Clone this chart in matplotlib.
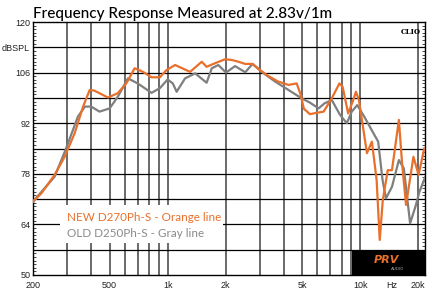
import matplotlib
matplotlib.use('Agg')
import matplotlib.pyplot as plt
from matplotlib.patches import Rectangle
from matplotlib.ticker import FixedLocator, MultipleLocator, NullFormatter

# Dados (frequência em Hz, nível em dBSPL)
freq_novo = [200, 221, 259, 292, 329, 364, 394, 417, 490, 551, 610, 674, 746, 825, 912, 986,
             1094, 1308, 1504, 1594, 1764, 1990, 2152, 2332, 2530, 2760, 3020, 3320, 3760,
             4240, 4680, 4900, 5100, 5480, 5720, 6460, 7120, 7800, 8100, 8660, 9200, 9500,
             9850, 10840, 11500, 12170, 12630, 13100, 13900, 14620, 15880, 16500, 17300,
             18900, 20100, 21500]
db_novo = [70.3, 72.6, 77.7, 82.7, 89.2, 96.6, 101.2, 101.0, 99.1, 100.3, 103.0, 107.2, 106.2,
           104.7, 104.7, 106.7, 108.1, 106.2, 109.0, 107.6, 108.6, 109.7, 109.5, 109.0, 108.4,
           108.4, 106.7, 105.1, 103.5, 102.6, 103.0, 100.0, 96.0, 94.5, 94.7, 95.2, 98.9,
           103.0, 102.1, 94.7, 98.4, 100.7, 98.4, 83.7, 86.9, 76.3, 59.7, 70.7, 79.0, 79.0,
           92.9, 80.9, 69.4, 82.7, 77.7, 85.0]

freq_antigo = [200, 259, 297, 342, 372, 401, 443, 500, 551, 622, 700, 825, 912, 1000, 1064,
               1114, 1232, 1390, 1594, 1696, 1834, 2010, 2240, 2530, 2760, 3080, 3620, 4240,
               4960, 5480, 6080, 6530, 7120, 7860, 8520, 9040, 9650, 10500, 11720, 12400,
               13060, 13600, 14620, 15880, 16850, 18160, 19350, 20300, 21700]
db_antigo = [70.3, 77.2, 85.0, 93.8, 96.6, 96.6, 95.2, 96.1, 99.3, 104.4, 103.0, 100.4, 101.7,
             104.1, 103.0, 100.7, 104.4, 105.8, 103.2, 107.2, 108.1, 106.0, 107.8, 106.1,
             108.4, 106.2, 103.5, 101.2, 98.9, 97.7, 96.1, 97.5, 98.4, 94.3, 92.0, 95.2, 97.0,
             93.8, 89.2, 86.9, 76.3, 71.2, 74.4, 81.8, 79.5, 64.3, 68.9, 73.0, 77.0]

# Rótulos dos eixos
x_ticks = [200, 500, 1000, 2000, 5000, 10000, 14500, 20000]
x_labels = ['200', '500', '1k', '2k', '5k', '10k', 'Hz', '20k']
y_ticks = [50, 64, 78, 92, 106, 113, 120]
y_labels = ['50', '64', '78', '92', '106', 'dBSPL', '120']
grade_x = [300, 400, 500, 600, 700, 800, 900, 1000, 2000, 3000, 4000, 5000, 6000, 7000,
           8000, 9000, 10000, 20000]
grade_y = [57, 64, 71, 78, 85, 92, 99, 106, 113]

LARANJA = '#e8702a'
CINZA = '#7f7f7f'


def criar_grafico():
    fig = plt.figure(figsize=(4.32, 2.96), dpi=100)
    ax = fig.add_axes([33 / 432, 21 / 296, 392 / 432, 253 / 296])
    ax.set_xscale('log')
    ax.set_xlim(200, 21700)
    ax.set_ylim(50, 120)

    # Grade
    for f in grade_x:
        ax.axvline(f, color='#5e5e5e', lw=1.3, zorder=1)
    for d in grade_y:
        ax.axhline(d, color='black', lw=0.9, zorder=1)

    # Caixa branca atrás da legenda
    ax.add_patch(Rectangle((0.069, 0.126), 0.416, 0.151, transform=ax.transAxes,
                           facecolor='white', edgecolor='none', zorder=2))

    # Curvas
    ax.plot(freq_antigo, db_antigo, color=CINZA, lw=1.6, zorder=3, solid_joinstyle='round')
    ax.plot(freq_novo, db_novo, color=LARANJA, lw=1.6, zorder=4, solid_joinstyle='round')

    # Eixos e rótulos
    ax.xaxis.set_major_locator(FixedLocator(x_ticks))
    ax.set_xticklabels(x_labels)
    ax.xaxis.set_minor_formatter(NullFormatter())
    ax.tick_params(axis='x', which='both', length=0, pad=4, labelsize=6.5, labelcolor='#222222')
    ax.set_yticks(y_ticks)
    ax.set_yticklabels(y_labels)
    ax.yaxis.set_minor_locator(MultipleLocator(1))
    ax.tick_params(axis='y', which='major', length=0, pad=2, labelsize=6.5, labelcolor='#222222')
    ax.tick_params(axis='y', which='minor', direction='in', length=2, width=0.5,
                   left=True, right=True)
    for lab in ax.get_xticklabels() + ax.get_yticklabels():
        lab.set_family('Liberation Sans')
    for s in ax.spines.values():
        s.set_linewidth(1.0)

    # Título
    fig.text(33 / 432, 0.94, 'Frequency Response Measured at 2.83v/1m', fontsize=11,
             family='Lato', fontweight='medium', color='black', ha='left', va='baseline')

    # Legenda em texto
    ax.text(0.086, 0.229, 'NEW D270Ph-S - Orange line', transform=ax.transAxes,
            fontsize=8.4, family='Lato', color=LARANJA, va='center', zorder=5)
    ax.text(0.086, 0.166, 'OLD D250Ph-S - Gray line', transform=ax.transAxes,
            fontsize=8.4, family='Lato', color='#8a8a8a', va='center', zorder=5)

    # Marca CLIO
    ax.text(0.99, 0.975, 'CLIO', transform=ax.transAxes, fontsize=5, fontweight='bold',
            family='DejaVu Serif', ha='right', va='top', zorder=5)

    # Logotipo PRV
    ax.add_patch(Rectangle((0.814, 0.0), 0.186, 0.099, transform=ax.transAxes,
                           facecolor='black', edgecolor='none', zorder=6))
    ax.text(0.902, 0.06, 'PRV', transform=ax.transAxes, fontsize=8, fontweight='bold',
            fontstyle='italic', family='DejaVu Sans', color=LARANJA, ha='center',
            va='center', zorder=7)
    ax.text(0.93, 0.025, 'AUDIO', transform=ax.transAxes, fontsize=3, color='#aaaaaa',
            ha='center', va='center', zorder=7)

    fig.savefig('out.png', dpi=100)


def main():
    criar_grafico()


if __name__ == "__main__":
    main()
